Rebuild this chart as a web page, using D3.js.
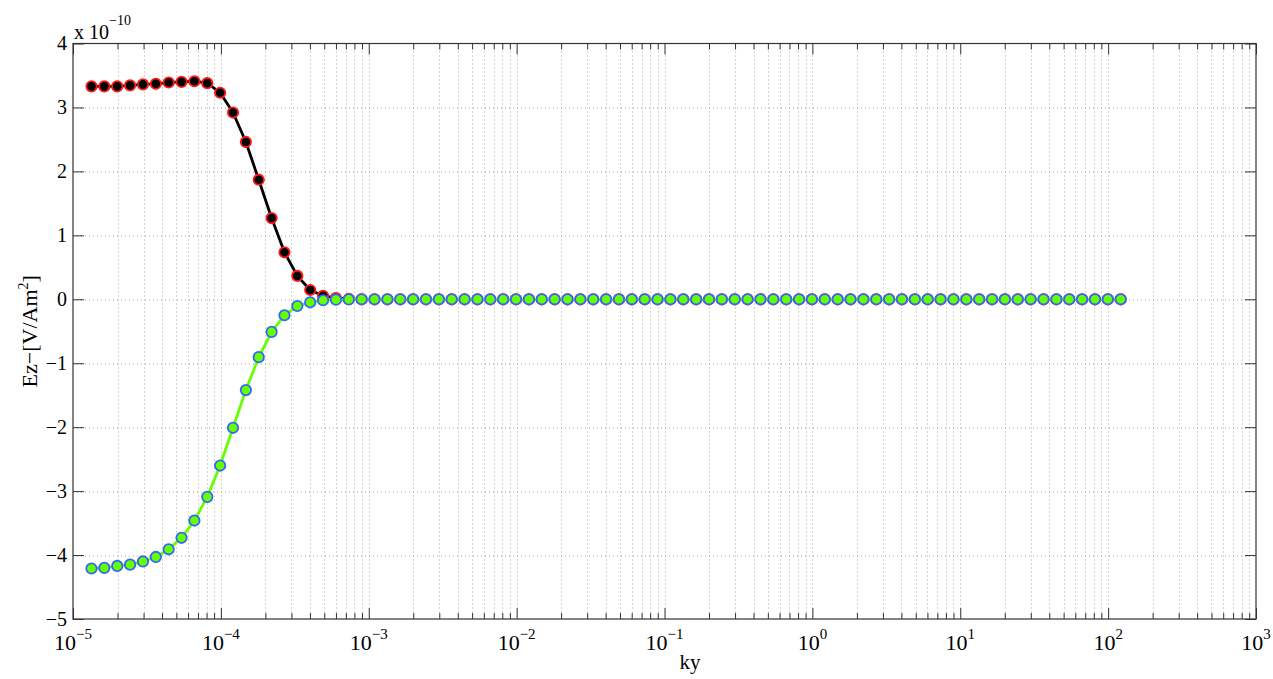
<!DOCTYPE html>
<html>
<head>
<meta charset="utf-8">
<script src="https://cdn.jsdelivr.net/npm/d3@7/dist/d3.min.js"></script>
<style>
	body { margin: 0; background: #fff; }
	svg text { font-family: "Liberation Serif", "DejaVu Serif", serif; fill: #000; }
</style>
</head>
<body>
<div id="chart"></div>
<script>
// ky grid (x values)
var ky = [
	1.334e-5, 1.629e-5, 1.991e-5, 2.432e-5, 2.972e-5, 3.631e-5, 4.436e-5, 5.420e-5, 6.622e-5, 8.091e-5,
	9.886e-5, 1.208e-4, 1.476e-4, 1.803e-4, 2.203e-4, 2.692e-4, 3.289e-4, 4.018e-4, 4.909e-4, 5.998e-4,
	7.328e-4, 8.954e-4, 1.094e-3, 1.337e-3, 1.633e-3, 1.995e-3, 2.438e-3, 2.979e-3, 3.639e-3, 4.446e-3,
	5.433e-3, 6.637e-3, 8.110e-3, 9.908e-3, 1.211e-2, 1.479e-2, 1.807e-2, 2.208e-2, 2.698e-2, 3.296e-2,
	4.027e-2, 4.920e-2, 6.012e-2, 7.345e-2, 8.974e-2, 1.096e-1, 1.340e-1, 1.637e-1, 2.000e-1, 2.443e-1,
	2.985e-1, 3.648e-1, 4.457e-1, 5.445e-1, 6.653e-1, 8.128e-1, 9.931e-1, 1.213, 1.483, 1.811,
	2.213, 2.704, 3.304, 4.036, 4.932, 6.026, 7.362, 8.995, 10.99, 13.43,
	16.41, 20.04, 24.49, 29.92, 36.56, 44.67, 54.58, 66.68, 81.47, 99.54,
	121.6
];

// Ez values, in units of 1e-10 V/Am^2
var ezUpper = [
	3.33, 3.33, 3.33, 3.345, 3.36, 3.37, 3.39, 3.40, 3.41, 3.38,
	3.23, 2.92, 2.46, 1.87, 1.27, 0.735, 0.365, 0.145, 0.055, 0.02,
	0.005, 0, 0, 0, 0, 0, 0, 0, 0, 0,
	0, 0, 0, 0, 0, 0, 0, 0, 0, 0,
	0, 0, 0, 0, 0, 0, 0, 0, 0, 0,
	0, 0, 0, 0, 0, 0, 0, 0, 0, 0,
	0, 0, 0, 0, 0, 0, 0, 0, 0, 0,
	0, 0, 0, 0, 0, 0, 0, 0, 0, 0,
	0
];
var ezLower = [
	-4.21, -4.20, -4.17, -4.15, -4.10, -4.03, -3.91, -3.73, -3.46, -3.09,
	-2.60, -2.01, -1.42, -0.905, -0.51, -0.25, -0.105, -0.047, -0.015, -0.006,
	-0.002, 0, 0, 0, 0, 0, 0, 0, 0, 0,
	0, 0, 0, 0, 0, 0, 0, 0, 0, 0,
	0, 0, 0, 0, 0, 0, 0, 0, 0, 0,
	0, 0, 0, 0, 0, 0, 0, 0, 0, 0,
	0, 0, 0, 0, 0, 0, 0, 0, 0, 0,
	0, 0, 0, 0, 0, 0, 0, 0, 0, 0,
	0
];

var xDecades = [-5, -4, -3, -2, -1, 0, 1, 2, 3];
var yTicks = [-5, -4, -3, -2, -1, 0, 1, 2, 3, 4];
var yExponent = "\u221210";

var W = 1273, H = 679;
var margin = {top: 43.5, right: 17, bottom: 60, left: 73};
var width = W - margin.left - margin.right;
var height = H - margin.top - margin.bottom;

var svg = d3.select("#chart").append("svg")
	.attr("width", W)
	.attr("height", H);

var g = svg.append("g")
	.attr("transform", "translate(" + margin.left + "," + margin.top + ")");

var x = d3.scaleLog().domain([1e-5, 1e3]).range([0, width]);
var y = d3.scaleLinear().domain([-5, 4]).range([height, 0]);

var majors = xDecades.map(e => Math.pow(10, e));
var minors = [];
for (var e = -5; e < 3; e++)
	for (var m = 2; m <= 9; m++) minors.push(m * Math.pow(10, e));

// grid
var grid = g.append("g").attr("class", "grid")
	.attr("stroke", "#a8a8a8")
	.attr("stroke-width", 1)
	.attr("stroke-dasharray", "1,3");

grid.selectAll(".vgrid").data(majors.concat(minors).filter(v => v > 1e-5 && v < 1e3))
	.enter().append("line")
	.attr("x1", d => Math.round(x(d)) + 0.5)
	.attr("x2", d => Math.round(x(d)) + 0.5)
	.attr("y1", 0).attr("y2", height);

grid.selectAll(".hgrid").data(yTicks.filter(v => v > -5 && v < 4))
	.enter().append("line")
	.attr("x1", 0).attr("x2", width)
	.attr("y1", d => Math.round(y(d)) + 0.5)
	.attr("y2", d => Math.round(y(d)) + 0.5);

// axes, ticks inward on all sides
function styleAxis(sel) {
	sel.select(".domain").remove();
	sel.selectAll("line").attr("stroke", "#333");
	sel.selectAll("text").remove();
}

g.append("g").attr("transform", "translate(0," + height + ")")
	.call(d3.axisBottom(x).tickValues(majors).tickSizeInner(-11).tickSizeOuter(0))
	.call(styleAxis);
g.append("g").attr("transform", "translate(0," + height + ")")
	.call(d3.axisBottom(x).tickValues(minors).tickSizeInner(-6).tickSizeOuter(0))
	.call(styleAxis);
g.append("g")
	.call(d3.axisTop(x).tickValues(majors).tickSizeInner(-11).tickSizeOuter(0))
	.call(styleAxis);
g.append("g")
	.call(d3.axisTop(x).tickValues(minors).tickSizeInner(-6).tickSizeOuter(0))
	.call(styleAxis);
g.append("g")
	.call(d3.axisLeft(y).tickValues(yTicks).tickSizeInner(-11).tickSizeOuter(0))
	.call(styleAxis);
g.append("g").attr("transform", "translate(" + width + ",0)")
	.call(d3.axisRight(y).tickValues(yTicks).tickSizeInner(-11).tickSizeOuter(0))
	.call(styleAxis);

g.append("rect")
	.attr("x", 0).attr("y", 0)
	.attr("width", width).attr("height", height)
	.attr("fill", "none")
	.attr("stroke", "#333")
	.attr("stroke-width", 1.2);

// tick labels
var xl = g.append("g").selectAll("text").data(xDecades)
	.enter().append("text")
	.attr("x", d => x(Math.pow(10, d)))
	.attr("y", height + 31)
	.attr("text-anchor", "middle")
	.style("font-size", "22px");
xl.append("tspan").text("10");
xl.append("tspan")
	.attr("dy", -11)
	.style("font-size", "15px")
	.text(d => d < 0 ? "\u2212" + (-d) : "" + d);

g.append("g").selectAll("text").data(yTicks)
	.enter().append("text")
	.attr("x", -6)
	.attr("y", d => y(d))
	.attr("dy", "0.34em")
	.attr("text-anchor", "end")
	.style("font-size", "20px")
	.text(d => d < 0 ? "\u2212" + (-d) : "" + d);

// exponent label
var ex = svg.append("text")
	.attr("x", margin.left + 1)
	.attr("y", 39)
	.style("font-size", "20px");
ex.append("tspan").text("x 10");
ex.append("tspan").attr("dy", -14).style("font-size", "14px").text(yExponent);

// axis titles
svg.append("text")
	.attr("x", 690)
	.attr("y", 669)
	.attr("text-anchor", "middle")
	.style("font-size", "21px")
	.text("ky");

var yl = svg.append("text")
	.attr("transform", "translate(37," + (margin.top + height / 2) + ") rotate(-90)")
	.attr("text-anchor", "middle")
	.style("font-size", "22px");
yl.append("tspan").text("Ez\u2212[V/Am");
yl.append("tspan").attr("dy", -9).style("font-size", "14px").text("2");
yl.append("tspan").attr("dy", 9).text("]");

// series
var line = d3.line()
	.x(d => x(d[0]))
	.y(d => y(d[1]));

function drawSeries(vals, lineColor, fill, edge) {
	var pts = ky.map((k, i) => [k, vals[i]]);
	g.append("path")
		.datum(pts)
		.attr("fill", "none")
		.attr("stroke", lineColor)
		.attr("stroke-width", 2.8)
		.attr("stroke-linejoin", "round")
		.attr("d", line);
	g.append("g").selectAll("circle").data(pts)
		.enter().append("circle")
		.attr("cx", d => x(d[0]))
		.attr("cy", d => y(d[1]))
		.attr("r", 5.2)
		.attr("fill", fill)
		.attr("stroke", edge)
		.attr("stroke-width", 1.8);
}

drawSeries(ezUpper, "#000", "#000", "#ff1a1a");
drawSeries(ezLower, "#66ff00", "#66ff00", "#3366ff");
</script>
</body>
</html>
